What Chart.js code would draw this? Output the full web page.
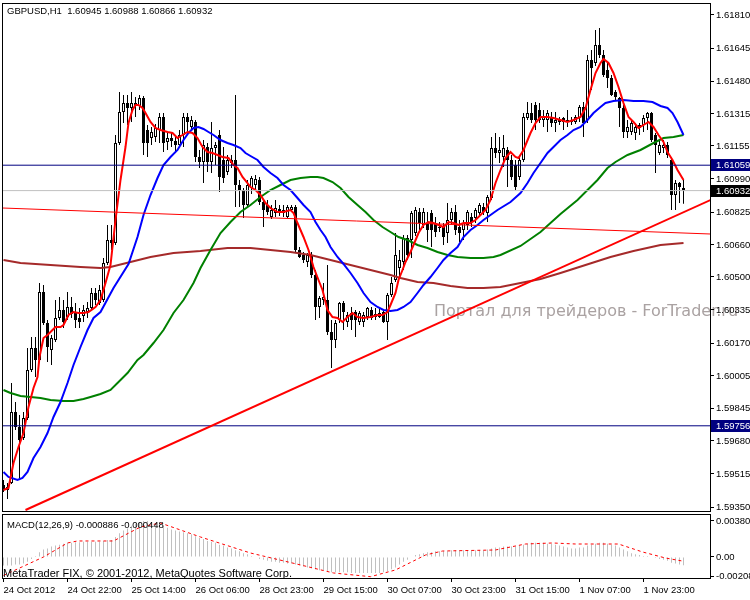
<!DOCTYPE html>
<html>
<head>
<meta charset="utf-8">
<title>GBPUSD,H1</title>
<script src="https://cdn.jsdelivr.net/npm/chart.js@4.4.1/dist/chart.umd.min.js"></script>
<style>
  html, body { margin: 0; padding: 0; background: #fff; }
  #wrap { position: relative; width: 750px; height: 600px; overflow: hidden; }
  #wrap canvas { position: absolute; left: 0; }
</style>
</head>
<body>
<div id="wrap">
  <canvas id="mainChart" width="750" height="513" style="top:0"></canvas>
  <canvas id="macdChart" width="750" height="87" style="top:513px"></canvas>
</div>
<script>
// H1 bars, index 0 = 24 Oct 2012 06:00
const openP = [1.59460,1.59435,1.59470,1.59825,1.59750,1.59695,1.59795,1.60035,1.60145,1.60085,
  1.60425,1.60270,1.60135,1.60185,1.60295,1.60335,1.60300,1.60350,1.60325,1.60295,
  1.60305,1.60325,1.60345,1.60420,1.60370,1.60385,1.60570,1.60685,1.60670,1.61170,
  1.61325,1.61370,1.61345,1.61370,1.61355,1.61395,1.61235,1.61195,1.61200,1.61235,
  1.61300,1.61175,1.61195,1.61180,1.61160,1.61210,1.61300,1.61250,1.61275,1.61100,
  1.61075,1.61150,1.61075,1.61145,1.61210,1.61085,1.61025,1.61085,1.61085,1.60960,
  1.60935,1.60860,1.60945,1.60960,1.60985,1.60875,1.60860,1.60800,1.60820,1.60840,
  1.60820,1.60800,1.60835,1.60850,1.60635,1.60610,1.60575,1.60610,1.60510,1.60350,
  1.60385,1.60385,1.60225,1.60185,1.60285,1.60370,1.60275,1.60320,1.60325,1.60275,
  1.60275,1.60300,1.60335,1.60300,1.60300,1.60325,1.60275,1.60410,1.60485,1.60545,
  1.60575,1.60695,1.60685,1.60720,1.60825,1.60760,1.60770,1.60820,1.60770,1.60745,
  1.60750,1.60720,1.60785,1.60825,1.60750,1.60735,1.60760,1.60800,1.60795,1.60820,
  1.60850,1.60820,1.60895,1.61145,1.61120,1.61100,1.61135,1.61085,1.61060,1.61000,
  1.61085,1.61295,1.61320,1.61360,1.61335,1.61285,1.61285,1.61300,1.61270,1.61285,
  1.61295,1.61275,1.61285,1.61275,1.61295,1.61350,1.61285,1.61585,1.61570,1.61660,
  1.61610,1.61535,1.61495,1.61425,1.61395,1.61345,1.61225,1.61225,1.61220,1.61260,
  1.61260,1.61295,1.61320,1.61210,1.61120,1.61145,1.61160,1.61085,1.60910,1.60970,
  1.60945];
const highP = [1.59485,1.59470,1.59970,1.59875,1.59810,1.59825,1.60145,1.60200,1.60200,1.60470,
  1.60460,1.60285,1.60210,1.60385,1.60400,1.60385,1.60425,1.60400,1.60370,1.60345,
  1.60360,1.60375,1.60445,1.60445,1.60460,1.60595,1.60760,1.60760,1.61210,1.61425,
  1.61410,1.61410,1.61425,1.61400,1.61410,1.61405,1.61260,1.61250,1.61265,1.61320,
  1.61320,1.61225,1.61220,1.61210,1.61235,1.61320,1.61320,1.61305,1.61285,1.61135,
  1.61185,1.61170,1.61275,1.61175,1.61235,1.61150,1.61110,1.61110,1.61410,1.60985,
  1.60945,1.60985,1.61005,1.61010,1.61000,1.60885,1.60885,1.60860,1.60885,1.60860,
  1.60860,1.60860,1.60860,1.60860,1.60650,1.60625,1.60620,1.60625,1.60535,1.60405,
  1.60470,1.60560,1.60285,1.60285,1.60375,1.60380,1.60325,1.60350,1.60335,1.60330,
  1.60325,1.60350,1.60350,1.60345,1.60345,1.60335,1.60420,1.60500,1.60720,1.60635,
  1.60710,1.60710,1.60830,1.60850,1.60845,1.60845,1.60825,1.60835,1.60800,1.60775,
  1.60770,1.60870,1.60845,1.60860,1.60785,1.60785,1.60835,1.60820,1.60845,1.60870,
  1.60870,1.60910,1.61200,1.61220,1.61200,1.61210,1.61150,1.61110,1.61085,1.61110,
  1.61320,1.61375,1.61370,1.61375,1.61370,1.61335,1.61335,1.61325,1.61325,1.61300,
  1.61300,1.61335,1.61300,1.61310,1.61360,1.61375,1.61610,1.61635,1.61735,1.61745,
  1.61635,1.61575,1.61510,1.61435,1.61400,1.61360,1.61285,1.61280,1.61270,1.61270,
  1.61310,1.61325,1.61325,1.61220,1.61185,1.61185,1.61175,1.61095,1.60985,1.60975,
  1.60988];
const lowP = [1.59425,1.59390,1.59465,1.59735,1.59485,1.59685,1.59785,1.60025,1.60000,1.60075,
  1.60260,1.60075,1.60060,1.60175,1.60285,1.60245,1.60285,1.60295,1.60245,1.60245,
  1.60275,1.60295,1.60335,1.60360,1.60360,1.60375,1.60560,1.60635,1.60660,1.61160,
  1.61270,1.61260,1.61275,1.61300,1.61335,1.61110,1.61100,1.61160,1.61175,1.61170,
  1.61125,1.61135,1.61150,1.61125,1.61145,1.61150,1.61225,1.61235,1.61075,1.61045,
  1.60970,1.61025,1.61020,1.61060,1.60925,1.60970,1.61010,1.61045,1.60850,1.60850,
  1.60795,1.60845,1.60915,1.60935,1.60860,1.60750,1.60810,1.60790,1.60800,1.60805,
  1.60800,1.60795,1.60825,1.60620,1.60595,1.60570,1.60550,1.60495,1.60285,1.60295,
  1.60360,1.60210,1.60045,1.60145,1.60270,1.60235,1.60250,1.60235,1.60200,1.60260,
  1.60250,1.60285,1.60285,1.60285,1.60295,1.60270,1.60185,1.60400,1.60475,1.60495,
  1.60535,1.60585,1.60595,1.60705,1.60735,1.60745,1.60675,1.60650,1.60700,1.60725,
  1.60660,1.60670,1.60760,1.60710,1.60675,1.60685,1.60735,1.60750,1.60770,1.60800,
  1.60810,1.60775,1.60885,1.61095,1.61070,1.61050,1.60950,1.60985,1.60935,1.60985,
  1.61075,1.61285,1.61270,1.61235,1.61270,1.61250,1.61225,1.61250,1.61225,1.61260,
  1.61235,1.61250,1.61260,1.61265,1.61275,1.61200,1.61270,1.61435,1.61555,1.61595,
  1.61500,1.61445,1.61405,1.61385,1.61250,1.61195,1.61195,1.61210,1.61185,1.61210,
  1.61225,1.61235,1.61175,1.61020,1.61110,1.61120,1.61095,1.60835,1.60835,1.60870,
  1.60866];
const closeP = [1.59435,1.59450,1.59825,1.59750,1.59685,1.59795,1.60035,1.60145,1.60085,1.60425,
  1.60270,1.60150,1.60195,1.60295,1.60335,1.60275,1.60350,1.60315,1.60285,1.60275,
  1.60335,1.60345,1.60420,1.60385,1.60435,1.60570,1.60685,1.60670,1.61170,1.61325,
  1.61370,1.61345,1.61370,1.61355,1.61395,1.61170,1.61170,1.61225,1.61245,1.61300,
  1.61170,1.61195,1.61180,1.61160,1.61210,1.61300,1.61275,1.61285,1.61100,1.61075,
  1.61160,1.61075,1.61145,1.61160,1.61000,1.60995,1.61085,1.61070,1.60960,1.60935,
  1.60860,1.60960,1.60995,1.60990,1.60875,1.60835,1.60825,1.60835,1.60845,1.60820,
  1.60835,1.60850,1.60850,1.60635,1.60600,1.60585,1.60610,1.60510,1.60350,1.60395,
  1.60400,1.60225,1.60185,1.60270,1.60370,1.60325,1.60310,1.60285,1.60285,1.60320,
  1.60310,1.60345,1.60295,1.60315,1.60320,1.60275,1.60410,1.60470,1.60610,1.60585,
  1.60695,1.60610,1.60820,1.60835,1.60770,1.60825,1.60735,1.60735,1.60725,1.60750,
  1.60700,1.60785,1.60825,1.60735,1.60720,1.60770,1.60825,1.60775,1.60835,1.60860,
  1.60825,1.60900,1.61145,1.61120,1.61135,1.61145,1.61085,1.61000,1.60950,1.61085,
  1.61300,1.61320,1.61285,1.61285,1.61285,1.61305,1.61320,1.61270,1.61285,1.61275,
  1.61275,1.61285,1.61275,1.61300,1.61350,1.61270,1.61585,1.61545,1.61660,1.61610,
  1.61510,1.61495,1.61410,1.61400,1.61345,1.61225,1.61250,1.61270,1.61250,1.61245,
  1.61295,1.61320,1.61185,1.61160,1.61160,1.61160,1.61110,1.60910,1.60970,1.60950,
  1.60932];

// moving averages at bar positions
const fastX = [0,1.25,2.5,3.75,5,6.25,7.5,8.5,9,10,11,12.25,13,14.25,15,16.25,17.5,18.75,20,21.25,
  23,24.25,25.5,26.75,28,29.25,30.5,31.25,32.25,33,33.75,34.75,35.5,36.75,38,39.25,41,42.25,43.5,44.75,
  46,47.25,48.5,49.75,51,52.25,53.5,54.75,56.25,57.5,58.5,59.75,61,61.75,63,64.25,65.5,66.75,68.5,70,
  71.75,72.5,73.5,75,76.25,77.5,78.75,79.75,81,82.25,83.5,84.75,86,87.25,88.5,90,91.75,93.5,94.75,96,
  96.75,98,98.75,99.75,100.5,101.75,102.5,103.75,105,106.25,107.5,108.75,110,111.25,112.5,113.75,115,116.75,118,119.25,
  120.5,121.75,123,124.25,125.5,126.75,128,128.75,130,131.75,133,134.25,136,137.5,139.25,141,142.5,144.25,145.5,146.75,
  148,149.25,150,151.25,152.5,153.75,155,156.25,157.5,158.75,160,161.25,162.5,163.75,165,166,167.25,168.5,170];
const fastY = [1.59435,1.59445,1.59570,1.59650,1.59720,1.59850,1.59945,1.60000,1.60100,1.60195,
  1.60210,1.60235,1.60250,1.60250,1.60260,1.60310,1.60325,1.60320,1.60320,1.60325,
  1.60350,1.60385,1.60470,1.60560,1.60785,1.60985,1.61150,1.61270,1.61335,1.61360,
  1.61360,1.61345,1.61320,1.61275,1.61245,1.61235,1.61225,1.61220,1.61195,1.61210,
  1.61225,1.61220,1.61195,1.61150,1.61125,1.61120,1.61110,1.61100,1.61095,1.61060,
  1.61045,1.61000,1.60970,1.60950,1.60935,1.60910,1.60870,1.60845,1.60825,1.60825,
  1.60835,1.60820,1.60770,1.60700,1.60635,1.60550,1.60485,1.60435,1.60335,1.60300,
  1.60295,1.60275,1.60300,1.60320,1.60300,1.60295,1.60300,1.60310,1.60310,1.60325,
  1.60360,1.60420,1.60485,1.60535,1.60575,1.60625,1.60660,1.60720,1.60760,1.60775,
  1.60770,1.60760,1.60750,1.60775,1.60770,1.60760,1.60770,1.60770,1.60785,1.60810,
  1.60835,1.60885,1.60970,1.61035,1.61095,1.61125,1.61100,1.61095,1.61135,1.61220,
  1.61270,1.61300,1.61300,1.61295,1.61285,1.61275,1.61285,1.61300,1.61345,1.61435,
  1.61520,1.61570,1.61590,1.61570,1.61520,1.61450,1.61370,1.61300,1.61275,1.61245,
  1.61260,1.61275,1.61250,1.61210,1.61175,1.61125,1.61085,1.61035,1.60985];
const blueX = [0,1.25,3.5,4.75,6,7.5,9.25,11,12.5,14.25,16,17.5,19.25,21,22.5,24.25,27.5,31.25,33.5,35,
  36.75,38.5,40,41.75,43.5,45,46.25,47.5,48.75,50,51.25,52.5,54.25,56,57.5,59.25,60.5,61.75,63.5,65,
  66.75,68.5,70,71.75,73.5,75,76.75,78,79.25,80.5,81.75,83.5,85,86.75,88.5,90,91.75,93.5,95,96.75,
  98.5,100,101.75,103.5,105,106.75,108.5,110,111.75,113.5,115,116.75,118.5,120,121.75,123.5,126.75,129.25,131,132.5,
  134.25,136,137.5,139.25,141,142.5,144.25,146,147.5,149.25,150.5,152.5,155,157.5,160,162.25,164.25,166,167.25,168.5,170];
const blueY = [1.59525,1.59500,1.59485,1.59495,1.59525,1.59595,1.59650,1.59720,1.59800,1.59875,
  1.59970,1.60060,1.60150,1.60235,1.60295,1.60325,1.60445,1.60565,1.60700,1.60810,
  1.60910,1.60995,1.61060,1.61100,1.61135,1.61185,1.61220,1.61245,1.61250,1.61240,
  1.61225,1.61210,1.61185,1.61170,1.61160,1.61145,1.61120,1.61105,1.61085,1.61050,
  1.61020,1.60995,1.60960,1.60935,1.60895,1.60860,1.60825,1.60775,1.60735,1.60700,
  1.60650,1.60600,1.60565,1.60520,1.60470,1.60420,1.60375,1.60350,1.60335,1.60330,
  1.60335,1.60350,1.60375,1.60420,1.60460,1.60500,1.60545,1.60585,1.60620,1.60650,
  1.60700,1.60735,1.60760,1.60785,1.60810,1.60835,1.60875,1.60920,1.60970,1.61020,
  1.61070,1.61120,1.61150,1.61185,1.61210,1.61235,1.61250,1.61285,1.61320,1.61350,
  1.61370,1.61380,1.61385,1.61380,1.61380,1.61375,1.61355,1.61345,1.61320,1.61275,
  1.61210];
const greenX = [0,1.75,4.25,6.75,9.25,11.75,15,17.5,20,21.75,24.25,26.75,28.5,31,33.5,35,37.5,40,42.5,45,
  47.5,49.25,51.75,54.25,56.75,59.25,61.75,64.25,66.75,69.25,71.75,74.25,76.75,78.5,80,82.25,84.25,86.25,88.5,90.5,
  92.5,94.75,96.75,98.75,101,103.5,106,108.5,111,113.5,116.75,120,122.5,124.25,129.25,134.25,139.25,143.5,146,148.5,
  151,153,156,159.25,162.5,165,167.5,170];
const greenY = [1.59935,1.59920,1.59905,1.59900,1.59895,1.59885,1.59880,1.59880,1.59890,1.59900,
  1.59915,1.59935,1.59970,1.60020,1.60085,1.60110,1.60170,1.60235,1.60320,1.60385,
  1.60470,1.60545,1.60635,1.60720,1.60775,1.60825,1.60860,1.60900,1.60935,1.60960,
  1.60985,1.60995,1.61000,1.61000,1.60995,1.60975,1.60945,1.60900,1.60860,1.60825,
  1.60785,1.60750,1.60725,1.60700,1.60685,1.60660,1.60645,1.60625,1.60610,1.60600,
  1.60595,1.60595,1.60600,1.60610,1.60655,1.60725,1.60815,1.60885,1.60935,1.60985,
  1.61045,1.61075,1.61110,1.61135,1.61170,1.61195,1.61200,1.61210];
const brownX = [0,4.25,11.75,19.25,24.25,26.75,31.75,36.75,42.5,49.25,56,61.75,66.75,71.75,76.75,81.75,86.75,91.75,96.75,99.25,
  103.5,107.5,111.75,116,120,124.25,129.25,134.25,139.25,145.5,151.75,157.5,164.25,170];
const brownY = [1.60585,1.60570,1.60560,1.60550,1.60545,1.60550,1.60575,1.60600,1.60620,1.60630,
  1.60645,1.60645,1.60635,1.60625,1.60610,1.60585,1.60560,1.60535,1.60510,1.60495,
  1.60475,1.60470,1.60455,1.60445,1.60445,1.60450,1.60470,1.60490,1.60520,1.60560,
  1.60600,1.60630,1.60660,1.60670];

// drawn objects
const trendX = [5.5, 176.75];
const trendY = [1.59335, 1.60885];
const chanX = [-0.25, 176.75];
const chanY = [1.60845, 1.60715];
const levelNavyHi = 1.61059;
const levelBid = 1.60932;
const levelNavyLo = 1.59756;

// MACD(12,26,9)
const macdMain = [-0.00090,-0.00090,-0.00090,-0.00080,-0.00080,-0.00070,-0.00050,-0.00020,0.00010,0.00050,
  0.00080,0.00090,0.00110,0.00120,0.00130,0.00140,0.00150,0.00150,0.00155,0.00155,
  0.00160,0.00160,0.00160,0.00160,0.00160,0.00170,0.00180,0.00180,0.00210,0.00250,
  0.00280,0.00300,0.00330,0.00350,0.00370,0.00380,0.00380,0.00370,0.00360,0.00350,
  0.00330,0.00310,0.00290,0.00280,0.00270,0.00260,0.00250,0.00240,0.00220,0.00200,
  0.00190,0.00170,0.00160,0.00150,0.00130,0.00120,0.00100,0.00090,0.00070,0.00060,
  0.00040,0.00030,0.00010,0.00000,-0.00020,-0.00030,-0.00040,-0.00050,-0.00050,-0.00060,
  -0.00060,-0.00070,-0.00070,-0.00080,-0.00090,-0.00100,-0.00110,-0.00120,-0.00130,-0.00140,
  -0.00140,-0.00150,-0.00160,-0.00160,-0.00160,-0.00160,-0.00160,-0.00170,-0.00170,-0.00170,
  -0.00170,-0.00170,-0.00170,-0.00170,-0.00170,-0.00160,-0.00150,-0.00130,-0.00110,-0.00080,
  -0.00050,-0.00030,0.00000,0.00020,0.00030,0.00040,0.00050,0.00050,0.00060,0.00060,
  0.00060,0.00060,0.00070,0.00070,0.00070,0.00070,0.00070,0.00070,0.00070,0.00070,
  0.00070,0.00080,0.00090,0.00100,0.00100,0.00110,0.00110,0.00110,0.00110,0.00120,
  0.00130,0.00140,0.00150,0.00150,0.00150,0.00150,0.00140,0.00140,0.00130,0.00120,
  0.00110,0.00100,0.00090,0.00090,0.00100,0.00100,0.00120,0.00130,0.00140,0.00150,
  0.00150,0.00140,0.00130,0.00120,0.00100,0.00080,0.00060,0.00040,0.00030,0.00020,
  0.00010,0.00010,0.00000,-0.00010,-0.00020,-0.00030,-0.00040,-0.00060,-0.00070,-0.00080,
  -0.000886];
const sigX = [0, 10, 16, 18.5, 27.5, 34.25, 39.25, 49.25, 61.75, 74.25, 82.5, 91.75, 98, 105.5, 109.75, 123, 130.5, 137.25, 143, 153.75, 159.75, 165.5, 170];
const sigY = [-0.00195, 0, 0.00148, 0.00169, 0.00169, 0.00317, 0.00359, 0.00211, 0.00042, -0.00084, -0.00169, -0.00208, -0.00137, 0.00021, 0.00063, 0.00074, 0.00137, 0.00148, 0.00137, 0.00137, 0.00053, -0.00011, -0.000448];

// axes
const priceTicks = [1.61810,1.61645,1.61480,1.61315,1.61155,1.60990,1.60825,1.60660,1.60500,1.60335,1.60170,1.60005,1.59845,1.59680,1.59515,1.59350];
const macdTicks = [-0.00208, 0, 0.003803];
const macdTickLabels = ['-0.00208', '0.00', '0.003803'];
const timeTickIdx = [0,16,32,48,64,80,96,112,128,144,160];
const timeLabels = ['24 Oct 2012','24 Oct 22:00','25 Oct 14:00','26 Oct 06:00','28 Oct 23:00','29 Oct 15:00','30 Oct 07:00','30 Oct 23:00','31 Oct 15:00','1 Nov 07:00','1 Nov 23:00'];

const X_MIN = -0.375, X_MAX = 176.625;
const FONT = '"Liberation Sans", Arial, sans-serif';
const last = closeP.length - 1;

Chart.defaults.font.family = FONT;
Chart.defaults.font.size = 9.5;
Chart.defaults.color = '#000';

const toPts = (xs, ys) => xs.map((x, i) => ({ x: x, y: ys[i] }));
const flat = v => [{ x: X_MIN - 2, y: v }, { x: X_MAX + 2, y: v }];

function lineSet(data, color, width, order, dash) {
  return { type: 'line', data: data, borderColor: color, borderWidth: width, borderDash: dash || [],
    pointRadius: 0, tension: 0, fill: false, order: order };
}

function rightAxis(min, max, ticks, labelFn) {
  return {
    type: 'linear', position: 'right', min: min, max: max,
    afterBuildTicks: a => { a.ticks = ticks.map(v => ({ value: v })); },
    afterFit: a => { a.width = 40; a.paddingTop = 0; a.paddingBottom = 0; },
    ticks: { autoSkip: false, padding: 2, color: '#000', callback: labelFn },
    grid: { drawOnChartArea: false, drawTicks: true, tickLength: 4, color: '#000' },
    border: { display: false }
  };
}

const mainDeco = {
  id: 'mainDeco',
  beforeDraw(chart) {
    const ctx = chart.ctx;
    ctx.save();
    ctx.font = '16px "DejaVu Sans", sans-serif';
    ctx.fillStyle = '#aaa2a2';
    ctx.fillText('Портал для трейдеров - ForTrader.ru', 434, 316);
    ctx.restore();
  },
  afterDraw(chart) {
    const { ctx, chartArea: a } = chart;
    const y = chart.scales.y;
    ctx.save();
    ctx.strokeStyle = '#000';
    ctx.lineWidth = 1;
    ctx.strokeRect(a.left + 0.5, a.top + 0.5, a.right - a.left, a.bottom - a.top);
    ctx.font = '9.5px ' + FONT;
    ctx.fillStyle = '#000';
    ctx.textBaseline = 'alphabetic';
    ctx.fillText('GBPUSD,H1  ' + openP[last].toFixed(5) + ' ' + highP[last].toFixed(5) + ' ' +
      lowP[last].toFixed(5) + ' ' + closeP[last].toFixed(5), 7, 14);
    // price boxes on the axis
    [[levelNavyHi, '#000080'], [levelBid, '#000000'], [levelNavyLo, '#000080']].forEach(([v, bg]) => {
      const py = Math.round(y.getPixelForValue(v));
      ctx.fillStyle = bg;
      ctx.fillRect(a.right + 1, py - 6, 750 - a.right - 1, 12);
      ctx.fillStyle = '#fff';
      ctx.textBaseline = 'middle';
      ctx.fillText(v.toFixed(5), a.right + 6, py + 0.5);
    });
    ctx.restore();
  }
};

new Chart(document.getElementById('mainChart'), {
  type: 'bar',
  data: {
    datasets: [
      lineSet(toPts(trendX, trendY), '#ff0000', 2, 1),
      lineSet(toPts(chanX, chanY), '#ff0000', 1, 1),
      lineSet(flat(levelNavyHi), '#000080', 1, 1),
      lineSet(flat(levelBid), '#c0c0c0', 1, 1),
      lineSet(flat(levelNavyLo), '#000080', 1, 1),
      lineSet(toPts(fastX, fastY), '#ff0000', 2, 2),
      lineSet(toPts(blueX, blueY), '#0000ff', 2, 2),
      lineSet(toPts(greenX, greenY), '#008000', 2, 2),
      lineSet(toPts(brownX, brownY), '#a52a2a', 2, 2),
      {
        type: 'bar', order: 3, grouped: false, barThickness: 3, inflateAmount: 0,
        data: openP.map((o, i) => ({ x: i, y: [o, closeP[i]] })),
        backgroundColor: openP.map((o, i) => closeP[i] >= o ? '#ffffff' : '#000000'),
        borderColor: '#000', borderWidth: 1, borderSkipped: false
      },
      {
        type: 'bar', order: 4, grouped: false, barThickness: 1, inflateAmount: 0,
        data: lowP.map((l, i) => ({ x: i, y: [l, highP[i]] })),
        backgroundColor: '#000', borderWidth: 0
      }
    ]
  },
  options: {
    responsive: false, animation: false, devicePixelRatio: 1, events: [],
    layout: { padding: { left: 2, top: 3, right: 0, bottom: 2 } },
    plugins: { legend: { display: false }, tooltip: { enabled: false }, colors: { enabled: false } },
    scales: {
      x: { type: 'linear', min: X_MIN, max: X_MAX, offset: false, display: false },
      y: rightAxis(1.5933, 1.6187, priceTicks, v => Number(v).toFixed(5))
    }
  },
  plugins: [mainDeco]
});

const macdDeco = {
  id: 'macdDeco',
  afterDraw(chart) {
    const { ctx, chartArea: a } = chart;
    ctx.save();
    ctx.strokeStyle = '#000';
    ctx.lineWidth = 1;
    ctx.strokeRect(a.left + 0.5, a.top + 0.5, a.right - a.left, a.bottom - a.top);
    ctx.fillStyle = '#000';
    ctx.font = '9.5px ' + FONT;
    ctx.fillText('MACD(12,26,9) ' + macdMain[last].toFixed(6) + ' ' + sigY[sigY.length - 1].toFixed(6), 7, 15);
    ctx.font = '11px ' + FONT;
    ctx.fillText('MetaTrader FIX, \u00a9 2001-2012, MetaQuotes Software Corp.', 3, 64);
    ctx.restore();
  }
};

new Chart(document.getElementById('macdChart'), {
  type: 'bar',
  data: {
    datasets: [
      lineSet(toPts(sigX, sigY), '#ff0000', 1, 1, [3, 3]),
      {
        type: 'bar', order: 2, grouped: false, barThickness: 1, inflateAmount: 0,
        data: macdMain.map((v, i) => ({ x: i, y: v })),
        backgroundColor: '#c0c0c0', borderWidth: 0
      }
    ]
  },
  options: {
    responsive: false, animation: false, devicePixelRatio: 1, events: [],
    layout: { padding: { left: 2, top: 1, right: 0, bottom: 0 } },
    plugins: { legend: { display: false }, tooltip: { enabled: false }, colors: { enabled: false } },
    scales: {
      x: {
        type: 'linear', min: X_MIN, max: X_MAX, offset: false,
        afterBuildTicks: a => { a.ticks = timeTickIdx.map(v => ({ value: v })); },
        afterFit: a => { a.height = 22; a.paddingLeft = 0; a.paddingRight = 0; },
        ticks: { autoSkip: false, maxRotation: 0, minRotation: 0, align: 'start', padding: 3, color: '#000',
          callback: (v, i) => timeLabels[i] },
        grid: { drawOnChartArea: false, drawTicks: true, tickLength: 4, color: '#000', offset: false },
        border: { display: false }
      },
      y: rightAxis(-0.00222, 0.00454, macdTicks, (v, i) => macdTickLabels[i])
    }
  },
  plugins: [macdDeco]
});
</script>
</body>
</html>
